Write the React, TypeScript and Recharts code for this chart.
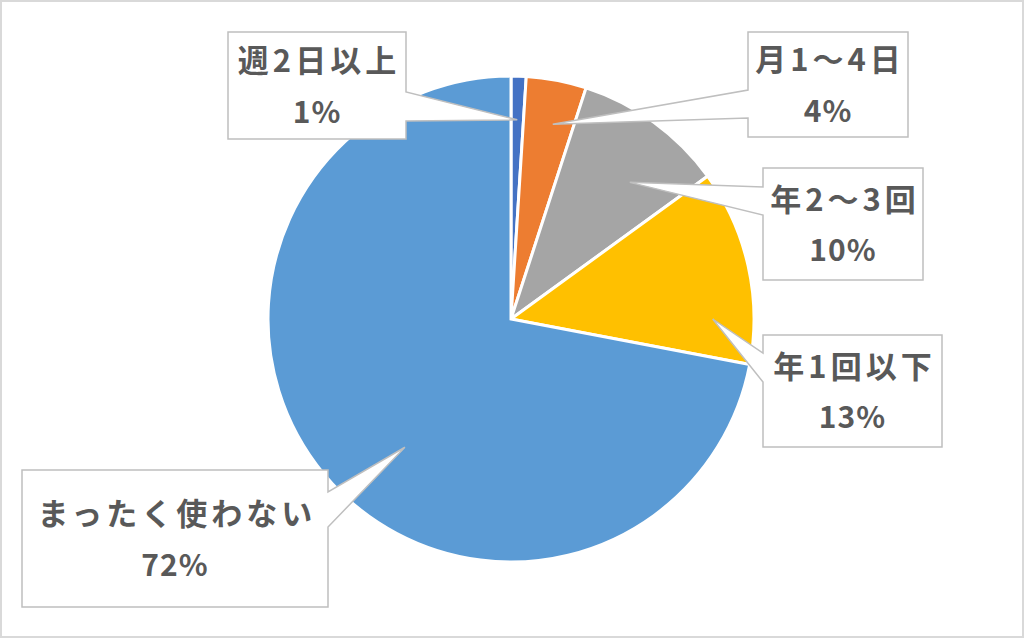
import React from "react";
import { PieChart, Pie, Cell } from "recharts";

const LABELS = ["週2日以上", "月1～4日", "年2～3回", "年1回以下", "まったく使わない"];
const VALUES = [1, 4, 10, 13, 72];
const COLORS = ["#4472C4", "#ED7D31", "#A5A5A5", "#FFC000", "#5B9BD5"];

// callout box layout: box rect, which side the pointer leaves from, pointer base span,
// and where the tip sits relative to the slice middle
const CALLOUTS = [
  { x: 228, y: 32, w: 178, h: 107, side: "right", b1: 92, b2: 121, dA: 0, rf: 0.82 },
  { x: 748, y: 32, w: 160, h: 105, side: "left", b1: 90, b2: 118, dA: -1.3, rf: 0.82 },
  { x: 763, y: 168, w: 160, h: 112, side: "left", b1: 187, b2: 215, dA: -5, rf: 0.745 },
  { x: 763, y: 335, w: 179, h: 112, side: "left", b1: 353, b2: 382, dA: -12.6, rf: 0.83 },
  { x: 22, y: 470, w: 306, h: 137, side: "right", b1: 492, b2: 527, dA: 10.8, rf: 0.685 },
];

const FONT = "'Noto Sans CJK JP', 'Noto Sans', sans-serif";
const RAD = Math.PI / 180;

const data = LABELS.map((name, i) => ({ name, value: VALUES[i] }));
const total = VALUES.reduce((a, b) => a + b, 0);

function Callout(props: any) {
  const { cx, cy, midAngle, outerRadius, index, value } = props;
  const c = CALLOUTS[index];
  const ang = (midAngle + c.dA) * RAD;
  const r = outerRadius * c.rf;
  const tx = cx + r * Math.cos(ang);
  const ty = cy - r * Math.sin(ang);
  const ex = c.side === "right" ? c.x + c.w : c.x;
  const d = c.side === "right"
    ? `M${c.x},${c.y} H${ex} V${c.b1} L${tx},${ty} L${ex},${c.b2} V${c.y + c.h} H${c.x} Z`
    : `M${c.x},${c.y} H${c.x + c.w} V${c.y + c.h} H${c.x} V${c.b2} L${tx},${ty} L${c.x},${c.b1} Z`;
  const mx = c.x + c.w / 2;
  const my = c.y + c.h / 2 - 2;
  const pct = Math.round((value / total) * 100);
  return (
    <g>
      <path d={d} fill="#fff" stroke="#bfbfbf" strokeWidth={1.5} />
      <text x={mx + 2} y={my - 25} textAnchor="middle" dominantBaseline="central"
        fontFamily={FONT} fontSize={31} fontWeight={600} fill="#595959" letterSpacing={4}>
        {LABELS[index]}
      </text>
      <text x={mx} y={my + 26} textAnchor="middle" dominantBaseline="central"
        fontFamily={FONT} fontSize={30} fontWeight={600} fill="#595959" letterSpacing={1}>
        {pct}%
      </text>
    </g>
  );
}

export default function App() {
  return (
    <div style={{ position: "absolute", left: 0, top: 0, width: 1024, height: 638, background: "#fff" }}>
      <PieChart width={1024} height={638} margin={{ top: 0, right: 0, bottom: 0, left: 0 }}>
        <Pie
          data={data}
          dataKey="value"
          cx={511}
          cy={319}
          outerRadius={243}
          startAngle={90}
          endAngle={-270}
          stroke="#ffffff"
          strokeWidth={3}
          label={Callout}
          labelLine={false}
          isAnimationActive={false}
        >
          {data.map((_, i) => (
            <Cell key={i} fill={COLORS[i]} />
          ))}
        </Pie>
      </PieChart>
      <div style={{ position: "absolute", inset: 0, border: "2px solid #d9d9d9", pointerEvents: "none" }} />
    </div>
  );
}
